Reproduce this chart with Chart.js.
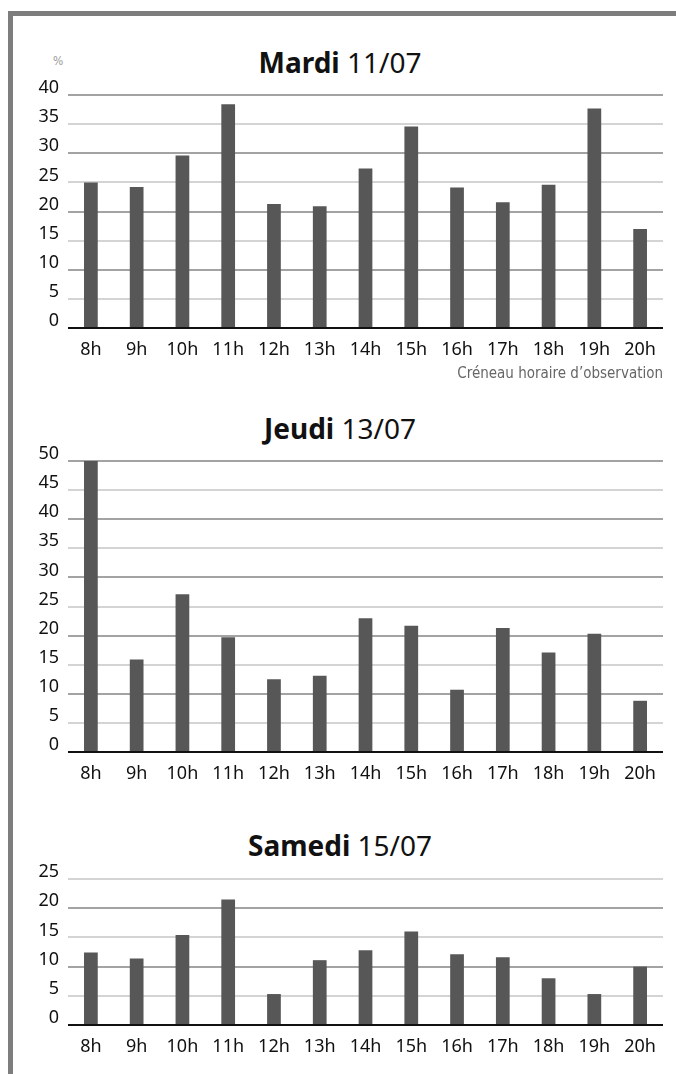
<!DOCTYPE html>
<html>
<head>
<meta charset="utf-8">
<script src="https://cdn.jsdelivr.net/npm/chart.js@4"></script>
<style>
  html, body { margin: 0; padding: 0; background: #fff; }
  body { width: 676px; height: 1074px; position: relative; overflow: hidden; font-family: 'Noto Sans', sans-serif; }
  .frame { position: absolute; left: 8px; top: 11px; width: 720px; height: 1120px;
           border-left: 5px solid #7d7d7d; border-top: 5px solid #7d7d7d; }
  canvas { position: absolute; left: 0; }
  .title { position: absolute; left: 0; width: 680px; text-align: center; font-size: 28px; line-height: 28px; color: #111; }
  .title b { font-weight: 700; }
  .unit { position: absolute; left: 53px; top: 54px; font-family: 'DejaVu Sans Condensed', 'Liberation Sans Narrow', 'Noto Sans', sans-serif; font-size: 12px; color: #999; }
</style>
</head>
<body>
<div class="frame"></div>
<div class="unit">%</div>
<div class="title" style="top:48px"><b>Mardi</b> 11/07</div>
<div class="title" style="top:414px"><b>Jeudi</b> 13/07</div>
<div class="title" style="top:831px"><b>Samedi</b> 15/07</div>
<canvas id="c1" width="676" height="308" style="top:75px"></canvas>
<canvas id="c2" width="676" height="347" style="top:441px"></canvas>
<canvas id="c3" width="676" height="202" style="top:859px"></canvas>
<script>
const hours = ['8h', '9h', '10h', '11h', '12h', '13h', '14h', '15h', '16h', '17h', '18h', '19h', '20h'];
const mardi = [25, 24.2, 29.6, 38.4, 21.3, 20.9, 27.4, 34.6, 24.1, 21.6, 24.6, 37.7, 17.0];
const jeudi = [50, 15.9, 27.1, 19.7, 12.5, 13.1, 23.0, 21.7, 10.7, 21.3, 17.1, 20.3, 8.8];
const samedi = [12.4, 11.4, 15.4, 21.5, 5.3, 11.1, 12.8, 16.0, 12.1, 11.6, 8.0, 5.3, 10.0];
const axisTitle = 'Créneau horaire d’observation';

const tickFont = { family: 'Noto Sans', size: 18 };

function barChart(id, values, max, xTitle, axisH) {
  new Chart(document.getElementById(id), {
    type: 'bar',
    data: {
      labels: hours,
      datasets: [{ data: values, backgroundColor: '#575757', barPercentage: 0.3, categoryPercentage: 1 }]
    },
    options: {
      responsive: false,
      animation: false,
      devicePixelRatio: 1,
      layout: { padding: { top: 20, right: 13, bottom: 0, left: 0 } },
      plugins: { legend: { display: false }, tooltip: { enabled: false } },
      scales: {
        x: {
          grid: { display: false },
          border: { display: false },
          ticks: { color: '#111', font: tickFont, padding: 3, maxRotation: 0, autoSkip: false },
          title: {
            display: !!xTitle, text: xTitle || '', align: 'end', color: '#666',
            font: { family: "'DejaVu Sans Condensed', 'Liberation Sans Narrow', 'Noto Sans'", size: 15 },
            padding: { top: 2, bottom: 0 }
          },
          afterFit: s => { s.height = axisH; }
        },
        y: {
          min: 0, max: max,
          border: { display: false },
          grid: {
            drawTicks: false,
            lineWidth: 2,
            color: c => c.tick.value === 0 ? '#111' : (c.tick.value % 10 === 0 ? '#a3a3a3' : '#d4d4d4')
          },
          ticks: { stepSize: 5, padding: 9, labelOffset: -7, color: '#111', font: tickFont },
          afterFit: s => { s.width = 68; }
        }
      }
    }
  });
}

barChart('c1', mardi, 40, axisTitle, 55);
barChart('c2', jeudi, 50, '', 36);
barChart('c3', samedi, 25, '', 36);
</script>
</body>
</html>
